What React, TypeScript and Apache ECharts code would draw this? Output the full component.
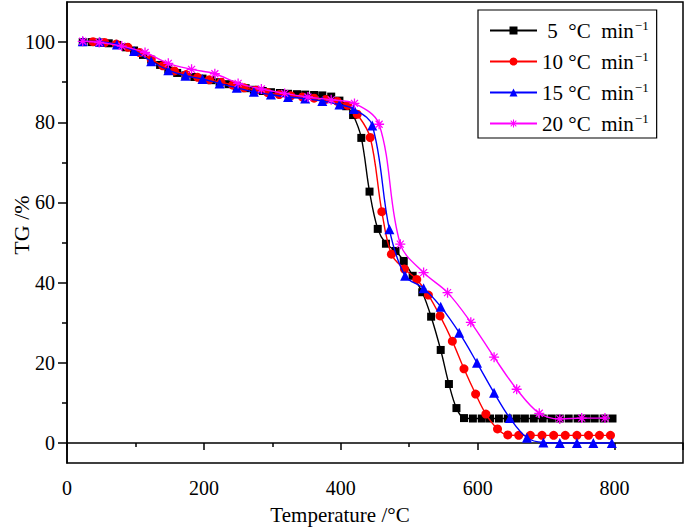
import React, { useEffect, useRef } from 'react';
import * as echarts from 'echarts';

// ---- data ----
const T5 = [23, 36, 48, 61, 73, 86, 98, 111, 123, 136, 148, 161, 173, 186, 198, 211, 223, 236, 248, 261, 273, 286, 298, 311, 323, 336, 348, 361, 373, 386, 398, 408, 418, 430, 442, 454, 466, 480, 492, 505, 519, 532, 546, 558, 569, 580, 593, 606, 618, 631, 644, 657, 669, 682, 695, 708, 720, 733, 746, 759, 771, 784, 797];
const TG5 = [100.0, 100.0, 99.9, 99.7, 99.3, 98.7, 97.9, 96.8, 95.6, 94.3, 93.2, 92.3, 91.7, 91.3, 90.9, 90.5, 90.0, 89.5, 89.0, 88.5, 88.1, 87.8, 87.5, 87.3, 87.1, 87.0, 86.9, 86.8, 86.7, 86.4, 85.4, 84.0, 81.8, 76.1, 62.7, 53.4, 49.7, 47.9, 45.4, 41.7, 37.6, 31.5, 23.2, 14.7, 8.7, 6.2, 6.1, 6.1, 6.1, 6.1, 6.1, 6.1, 6.1, 6.1, 6.1, 6.1, 6.1, 6.1, 6.1, 6.1, 6.1, 6.1, 6.1];

const T10 = [38, 55, 72, 89, 106, 123, 140, 157, 174, 191, 208, 225, 242, 259, 276, 293, 310, 327, 344, 361, 378, 395, 410, 424, 443, 460, 474, 493, 511, 528, 545, 563, 580, 597, 612, 629, 644, 660, 677, 694, 711, 728, 745, 762, 778, 794];
const TG10 = [100.1, 99.9, 99.5, 98.7, 97.4, 95.7, 94.1, 92.8, 91.9, 91.2, 90.6, 90.0, 89.3, 88.6, 88.0, 87.4, 86.9, 86.6, 86.3, 86.0, 85.7, 85.2, 84.2, 82.0, 76.2, 57.7, 47.1, 43.4, 40.8, 36.9, 31.7, 25.4, 18.5, 12.2, 7.2, 3.5, 2.0, 1.9, 1.9, 1.9, 1.9, 1.9, 1.9, 1.9, 1.9, 1.9];

const T15 = [23, 48, 73, 98, 123, 148, 173, 198, 223, 248, 273, 298, 323, 348, 373, 398, 419, 446, 471, 494, 521, 546, 573, 599, 624, 647, 672, 696, 720, 745, 769, 796];
const TG15 = [100.2, 100.1, 99.4, 97.8, 95.2, 93.0, 91.6, 90.8, 89.7, 88.6, 87.6, 86.9, 86.3, 85.9, 85.3, 84.4, 83.3, 79.2, 53.3, 41.7, 38.6, 34.0, 27.5, 20.0, 12.5, 6.2, 1.3, 0.1, 0, 0, 0, 0];

const T20 = [23, 47, 80, 114, 148, 182, 216, 250, 284, 318, 352, 386, 420, 456, 487, 521, 556, 590, 624, 657, 690, 720, 752, 786];
const TG20 = [100.2, 99.9, 99.0, 97.4, 94.7, 93.2, 92.1, 89.7, 88.3, 87.2, 86.3, 85.6, 84.7, 79.5, 49.6, 42.5, 37.5, 30.1, 21.4, 13.4, 7.4, 6.0, 6.2, 6.2];

const RATES = ['5', '10', '15', '20'];
const X_STEP = 200;
const Y_TICKS = [0, 20, 40, 60, 80, 100];
const Y_MINOR = [10, 30, 50, 70, 90];

const COLORS = ['#000000', '#ff0000', '#0000ff', '#ff00ff'];
const FONT = 'Liberation Serif';

const STAR =
  'path://M-0.13,-1L0.13,-1L0.13,1L-0.13,1Z' +
  'M-1,-0.13L1,-0.13L1,0.13L-1,0.13Z' +
  'M-0.785,-0.615L-0.615,-0.785L0.785,0.615L0.615,0.785Z' +
  'M-0.785,0.615L0.615,-0.785L0.785,-0.615L-0.615,0.785Z';

const zip = (xs: number[], ys: number[]) => xs.map((x, i) => [x, ys[i]]);

export default function App() {
  const ref = useRef<HTMLDivElement>(null);
  useEffect(() => {
    if (!ref.current) return;
    const chart = echarts.init(ref.current, undefined, { renderer: 'svg' });
    const sets = [
      { t: T5, g: TG5, symbol: 'rect', size: 8 },
      { t: T10, g: TG10, symbol: 'circle', size: 9 },
      { t: T15, g: TG15, symbol: 'triangle', size: 10 },
      { t: T20, g: TG20, symbol: STAR, size: 10 },
    ];
    const names = RATES.map((r) => `${r} °C min⁻¹`);
    const axisLine = { show: true, lineStyle: { color: '#000', width: 1.5 } };
    chart.setOption({
      animation: false,
      backgroundColor: '#fff',
      textStyle: { fontFamily: FONT, color: '#000' },
      grid: {
        left: 67,
        right: 2,
        top: 2,
        bottom: 66,
        show: true,
        borderColor: '#000',
        borderWidth: 1.5,
        containLabel: false,
        outerBoundsMode: 'none',
      },
      xAxis: {
        type: 'value',
        min: 0,
        max: 900,
        interval: X_STEP,
        axisLine,
        splitLine: { show: false },
        axisTick: { show: true, inside: false, length: 7, lineStyle: { color: '#000', width: 1.5 } },
        minorTick: { show: true, splitNumber: 2, length: 4, lineStyle: { color: '#000', width: 1.5 } },
        axisLabel: {
          color: '#000',
          fontFamily: FONT,
          fontSize: 20,
          margin: 15,
          showMaxLabel: false,
          formatter: (v: number) => (v > 800 ? '' : String(v)),
        },
      },
      yAxis: [
        {
          type: 'value',
          min: -5,
          max: 110,
          axisLine,
          splitLine: { show: false },
          axisTick: { show: true, inside: false, length: 9, customValues: Y_TICKS, lineStyle: { color: '#000', width: 1.5 } },
          axisLabel: {
            color: '#000',
            fontFamily: FONT,
            fontSize: 20,
            margin: 12,
            customValues: Y_TICKS,
            formatter: (v: number) => String(v),
          },
        },
        {
          type: 'value',
          min: -5,
          max: 110,
          position: 'left',
          axisLine: { show: false },
          splitLine: { show: false },
          axisTick: { show: true, inside: false, length: 5, customValues: Y_MINOR, lineStyle: { color: '#000', width: 1.5 } },
          axisLabel: { show: false },
        },
      ],
      legend: {
        orient: 'vertical',
        left: 478,
        top: 10,
        padding: [9, 8, 4, 11],
        itemGap: 9,
        itemWidth: 47,
        itemHeight: 10,
        borderColor: '#000',
        borderWidth: 1.2,
        backgroundColor: '#fff',
        data: names,
        formatter: (name: string) => {
          const r = name.split(' ')[0];
          return `{n|${r}}{t| °C  min}{s|−1}`;
        },
        textStyle: {
          color: '#000',
          fontFamily: FONT,
          fontSize: 21,
          rich: {
            n: { fontFamily: FONT, fontSize: 21, width: 21, align: 'right', color: '#000' },
            t: { fontFamily: FONT, fontSize: 21, color: '#000' },
            s: { fontFamily: FONT, fontSize: 13, verticalAlign: 'top', color: '#000', padding: [0, 0, 10, 1] },
          },
        },
      },
      graphic: [
        {
          type: 'text',
          x: 21,
          y: 225,
          rotation: Math.PI / 2,
          style: { text: 'TG /%', fontFamily: FONT, fontSize: 22, fill: '#000', align: 'center', verticalAlign: 'middle' },
        },
        {
          type: 'text',
          x: 340,
          y: 515,
          style: { text: 'Temperature /°C', fontFamily: FONT, fontSize: 21, fill: '#000', align: 'center', verticalAlign: 'middle' },
        },
      ],
      series: sets.map((s, i) => ({
        type: 'line',
        name: names[i],
        data: zip(s.t, s.g),
        yAxisIndex: 0,
        smooth: 0.35,
        showAllSymbol: true,
        symbol: s.symbol,
        symbolSize: s.size,
        lineStyle: { color: COLORS[i], width: 1.4 },
        itemStyle: { color: COLORS[i] },
        z: 2 + i,
      })),
    });
    return () => chart.dispose();
  }, []);
  return (
    <div
      ref={ref}
      style={{ position: 'fixed', left: 0, top: 0, width: 685, height: 529, background: '#fff' }}
    />
  );
}
